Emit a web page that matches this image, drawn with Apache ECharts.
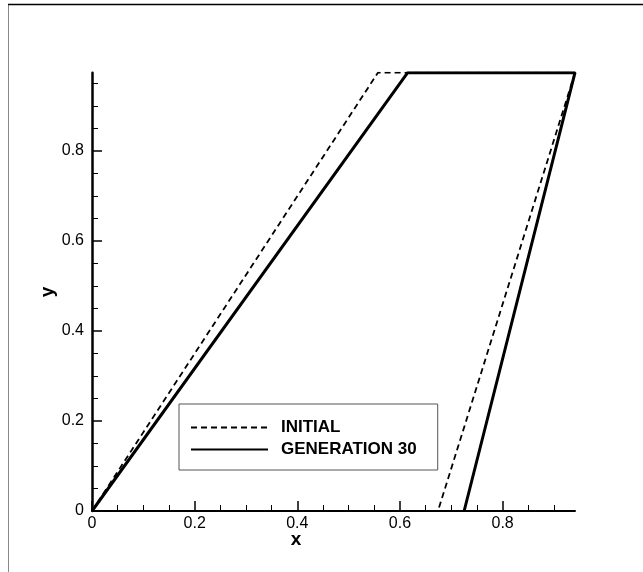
<!DOCTYPE html>
<html>
<head>
<meta charset="utf-8">
<script src="https://cdn.jsdelivr.net/npm/echarts@6/dist/echarts.min.js"></script>
<style>
  html, body { margin: 0; padding: 0; background: #fff; }
  #chart { width: 643px; height: 572px; }
</style>
</head>
<body>
<div id="chart"></div>
<script>
// Planform outlines (x, y) of the initial shape and the generation-30 shape
const initialX = [0, 0.557, 0.941, 0.674];
const initialY = [0, 0.974, 0.974, 0];
const gen30X = [0, 0.615, 0.941, 0.725];
const gen30Y = [0, 0.974, 0.974, 0];

const seriesNames = ['INITIAL', 'GENERATION 30'];

// Axis extents and tick positions
const xMax = 0.941;
const yMax = 0.974;
const xMajorTicks = [0, 0.2, 0.4, 0.6, 0.8];
const xMinorTicks = [0.05, 0.1, 0.15, 0.25, 0.3, 0.35, 0.45, 0.5, 0.55, 0.65, 0.7, 0.75, 0.85, 0.9];
const yMajorTicks = [0, 0.2, 0.4, 0.6, 0.8];
const yMinorTicks = [0.05, 0.1, 0.15, 0.25, 0.3, 0.35, 0.45, 0.5, 0.55, 0.65, 0.7, 0.75, 0.85, 0.9, 0.95];

const toPairs = (xs, ys) => xs.map((x, i) => [x, ys[i]]);

const FONT = 'Liberation Sans, Arial, Helvetica, sans-serif';

const chart = echarts.init(document.getElementById('chart'), null, { renderer: 'canvas' });

const labelFmt = v => (v === 0 ? '0' : String(v));

chart.setOption({
  animation: false,
  backgroundColor: '#ffffff',
  grid: { left: 92, right: 68, top: 72.7, bottom: 61, containLabel: false },
  xAxis: [
    {
      type: 'value', min: 0, max: xMax,
      axisLine: { show: true, onZero: false, lineStyle: { color: '#000', width: 2 } },
      axisTick: { show: true, inside: true, length: 10, customValues: xMajorTicks, lineStyle: { color: '#000', width: 1.5 } },
      axisLabel: { show: true, customValues: xMajorTicks, formatter: labelFmt, color: '#000', fontFamily: FONT, fontSize: 16, margin: 5 },
      splitLine: { show: false }
    },
    {
      type: 'value', min: 0, max: xMax, position: 'bottom',
      axisLine: { show: false },
      axisTick: { show: true, inside: true, length: 6, customValues: xMinorTicks, lineStyle: { color: '#000', width: 1 } },
      axisLabel: { show: false },
      splitLine: { show: false }
    }
  ],
  yAxis: [
    {
      type: 'value', min: 0, max: yMax,
      axisLine: { show: true, onZero: false, lineStyle: { color: '#000', width: 2.5 } },
      axisTick: { show: true, inside: true, length: 10, customValues: yMajorTicks, lineStyle: { color: '#000', width: 1.5 } },
      axisLabel: { show: true, customValues: yMajorTicks, formatter: labelFmt, color: '#000', fontFamily: FONT, fontSize: 16, margin: 8 },
      splitLine: { show: false }
    },
    {
      type: 'value', min: 0, max: yMax, position: 'left',
      axisLine: { show: false },
      axisTick: { show: true, inside: true, length: 6, customValues: yMinorTicks, lineStyle: { color: '#000', width: 1 } },
      axisLabel: { show: false },
      splitLine: { show: false }
    }
  ],
  legend: {
    orient: 'vertical',
    left: 179, top: 404,
    data: seriesNames,
    backgroundColor: '#fff',
    borderColor: '#555',
    borderWidth: 1,
    borderRadius: 0,
    padding: [15, 21, 12, 11],
    itemWidth: 77,
    itemHeight: 14,
    itemGap: 5,
    itemStyle: { opacity: 0 },
    textStyle: { color: '#000', fontFamily: FONT, fontSize: 17, fontWeight: 'bold', padding: [0, 0, 0, 8] },
    selectedMode: false
  },
  graphic: [
    { type: 'line', shape: { x1: 8.5, y1: 4, x2: 8.5, y2: 572 }, style: { stroke: '#888', lineWidth: 1 }, silent: true },
    { type: 'line', shape: { x1: 8, y1: 4.5, x2: 643, y2: 4.5 }, style: { stroke: '#000', lineWidth: 1.5 }, silent: true },
    { type: 'text', x: 296, y: 540, style: { text: 'x', font: 'bold 19px ' + FONT, fill: '#000', align: 'center', verticalAlign: 'middle' }, silent: true },
    { type: 'text', x: 48, y: 292, rotation: Math.PI / 2, style: { text: 'y', font: 'bold 19px ' + FONT, fill: '#000', align: 'center', verticalAlign: 'middle' }, silent: true }
  ],
  series: [
    {
      name: seriesNames[0], type: 'line', xAxisIndex: 0, yAxisIndex: 0,
      data: toPairs(initialX, initialY),
      showSymbol: false, symbol: 'none',
      lineStyle: { color: '#000', width: 1.8, type: [6, 4] },
      itemStyle: { color: '#000' },
      z: 2
    },
    {
      name: seriesNames[1], type: 'line', xAxisIndex: 0, yAxisIndex: 0,
      data: toPairs(gen30X, gen30Y),
      showSymbol: false, symbol: 'none',
      lineStyle: { color: '#000', width: 3, type: 'solid' },
      itemStyle: { color: '#000' },
      z: 3
    }
  ]
});
</script>
</body>
</html>
